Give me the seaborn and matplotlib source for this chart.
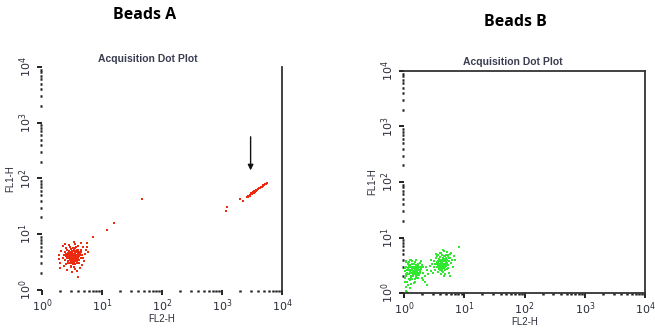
import numpy as np
import pandas as pd
import matplotlib
matplotlib.use("Agg")
import matplotlib.pyplot as plt
import seaborn as sns
from matplotlib.ticker import LogLocator, FixedLocator, FixedFormatter, NullFormatter

sns.set_style("ticks")
plt.rcParams["font.family"] = ["Liberation Sans", "DejaVu Sans"]

# ---- decade ticks ----
decades = [1, 10, 100, 1000, 10000]
decade_labels = [r"$10^{0}$", r"$10^{1}$", r"$10^{2}$", r"$10^{3}$", r"$10^{4}$"]

# ---- Beads A: low population (FL2-H, FL1-H) ----
a_low_fl2 = [3.1, 3.4, 2.9, 3.6, 3.3, 2.8, 3.8, 3.0, 3.5, 4.0,
             2.6, 3.2, 3.7, 4.2, 2.7, 3.9, 3.3, 2.5, 4.4, 3.0,
             3.6, 2.9, 3.4, 3.1, 3.8, 2.7, 4.1, 3.5, 3.2, 2.8,
             4.3, 3.6, 2.4, 2.3, 4.6, 3.0, 3.9, 3.3, 2.6, 4.8,
             3.7, 2.2, 4.5, 3.1, 2.9, 4.0, 2.5, 4.2, 3.4, 2.4,
             3.5, 3.0, 3.7, 3.2, 2.8, 4.0, 3.3, 3.6, 2.9, 3.8,
             2.0, 2.1, 1.9, 2.3, 2.0, 5.2, 5.0, 5.5, 4.9, 2.6,
             3.6, 4.3, 3.9, 2.2, 2.8, 3.5, 4.4, 5.6, 1.9, 4.7,
             3.2, 2.4, 4.0, 5.8, 3.4, 2.7, 3.1, 4.1, 3.0, 2.5,
             3.25, 3.45, 3.05, 3.65, 2.85, 3.95, 3.15, 3.55, 2.75, 4.05,
             3.35, 2.95, 3.75, 3.05, 3.5, 2.65, 4.15, 3.85, 3.2, 2.9,
             3.4, 3.6, 3.0, 3.8, 2.7, 4.3, 3.3, 3.1, 3.5, 2.55,
             3.7, 4.0, 2.8, 3.45, 3.15, 3.9, 2.6, 4.5, 3.25, 3.55]
a_low_fl1 = [3.8, 4.1, 3.6, 4.3, 3.4, 4.2, 3.9, 4.7, 5.0, 4.5,
             3.7, 3.1, 3.3, 4.0, 4.6, 5.3, 4.5, 4.0, 3.7, 3.0,
             3.7, 3.9, 3.6, 4.3, 4.2, 3.3, 3.4, 2.9, 5.1, 5.0,
             4.7, 5.6, 3.4, 4.3, 4.2, 2.7, 3.0, 5.7, 5.3, 3.8,
             6.0, 3.8, 5.2, 2.6, 5.8, 6.2, 2.9, 3.1, 2.6, 4.8,
             3.9, 4.1, 4.0, 3.6, 3.8, 3.8, 4.2, 4.6, 4.4, 3.6,
             3.1, 5.1, 4.2, 2.7, 2.5, 4.5, 3.3, 5.3, 5.9, 2.3,
             2.4, 2.5, 2.2, 6.1, 6.5, 6.7, 6.9, 6.0, 3.6, 2.8,
             2.1, 6.6, 1.7, 4.8, 7.2, 3.0, 3.2, 4.9, 3.5, 5.6,
             3.7, 4.4, 4.2, 3.5, 3.9, 4.6, 3.2, 4.8, 4.1, 3.9,
             5.0, 3.4, 4.9, 5.5, 3.5, 4.3, 4.4, 3.3, 4.0, 4.9,
             3.2, 4.1, 3.7, 5.1, 3.9, 4.3, 3.9, 3.5, 4.6, 4.5,
             3.8, 5.2, 3.1, 5.4, 4.8, 4.3, 4.2, 4.8, 2.9, 3.6]

# ---- Beads A: scattered intermediate events ----
a_mid_fl2 = [5.6, 7.1, 12, 15.8, 46, 1200, 1180, 2000, 2250]
a_mid_fl1 = [6.9, 8.9, 12, 15.8, 43, 31, 26.5, 42.5, 39.8]

# ---- Beads A: bright population ----
a_high_fl2 = [2630, 2700, 2760, 2820, 2880, 2950, 3020, 3080, 3150, 3240,
              3300, 3380, 3470, 3550, 3630, 3720, 3820, 3980, 4100, 4270,
              4400, 4570, 4750, 4900, 5100, 5250, 5450, 5620, 2900, 3100,
              3350, 3600, 3900, 2750, 3200, 3500]
a_high_fl1 = [46, 48, 49.5, 48.5, 51, 50.5, 53, 52, 55, 54,
              57, 56, 59, 58, 61, 60, 63, 64, 67, 67,
              70, 71, 74, 75, 78, 80, 81, 84, 49, 54.5,
              55, 60.5, 62, 47, 53, 57]

# ---- Beads B: first population ----
b_one_fl2 = [1.10, 1.25, 1.40, 1.55, 1.70, 1.15, 1.30, 1.45, 1.60, 1.85,
             1.05, 1.20, 1.35, 1.50, 1.65, 1.80, 1.95, 1.12, 1.28, 1.42,
             1.58, 1.75, 1.08, 1.22, 1.38, 1.52, 1.68, 2.05, 1.18, 1.33,
             1.48, 1.62, 1.90, 1.03, 1.14, 1.26, 1.44, 2.20, 1.72, 1.36,
             1.06, 1.10, 1.17, 1.24, 1.31, 2.40, 2.10, 1.55, 1.85, 1.97,
             1.09, 1.21, 1.34, 1.47, 1.59, 1.66, 1.78, 1.29, 1.41, 1.53,
             2.30, 2.50, 2.65, 2.20, 2.45, 2.80, 2.00, 1.13, 1.02, 1.27,
             1.16, 1.32, 1.46, 1.61, 1.74, 1.23, 1.38, 1.54, 1.07, 1.19,
             1.43, 1.65, 1.27, 1.51, 1.11, 1.36, 1.82, 1.57, 1.04, 1.70,
             1.15, 1.30, 1.50, 1.70, 1.95, 1.25, 1.45, 1.60, 2.10, 1.08]
b_one_fl1 = [2.0, 2.4, 2.1, 2.6, 2.3, 2.8, 1.9, 2.9, 2.0, 2.5,
             2.5, 3.1, 2.7, 2.2, 2.9, 2.1, 2.7, 1.6, 1.7, 2.5,
             3.2, 2.6, 3.0, 2.2, 3.3, 1.8, 1.9, 2.3, 3.5, 2.0,
             2.8, 2.4, 3.0, 1.9, 2.3, 2.9, 1.5, 2.0, 3.4, 3.7,
             1.3, 1.1, 1.4, 1.25, 1.45, 2.6, 1.7, 1.6, 3.5, 1.9,
             3.8, 3.6, 2.3, 2.2, 2.7, 2.1, 2.9, 2.6, 2.0, 3.0,
             2.9, 2.2, 3.1, 1.6, 1.4, 2.5, 3.2, 1.05, 2.8, 3.2,
             2.2, 2.0, 2.4, 2.2, 2.1, 2.6, 2.9, 2.4, 2.2, 1.8,
             3.0, 2.6, 2.3, 2.7, 2.6, 1.8, 2.3, 1.9, 1.6, 2.8,
             3.3, 3.9, 3.6, 3.2, 3.7, 4.0, 3.3, 3.9, 3.0, 3.6]

# ---- Beads B: second population ----
b_two_fl2 = [4.0, 4.4, 3.7, 4.8, 3.4, 4.2, 5.0, 3.9, 4.6, 3.6,
             4.1, 4.5, 5.3, 3.3, 3.8, 4.9, 4.3, 5.6, 3.5, 4.7,
             4.0, 3.2, 5.8, 4.4, 3.6, 5.1, 3.9, 4.6, 6.0, 3.1,
             4.2, 4.8, 3.7, 5.4, 4.3, 3.4, 5.0, 6.3, 4.1, 3.8,
             2.9, 3.0, 6.6, 7.0, 5.5, 4.6, 3.5, 5.9, 2.8, 6.8,
             4.5, 3.9, 4.9, 4.4, 5.2, 3.3, 4.0, 4.7, 8.2, 5.7,
             4.25, 4.05, 3.85, 4.65, 4.35, 5.2, 3.65, 4.9, 4.15, 4.55,
             3.75, 5.0, 4.45, 3.95, 5.5, 4.2, 3.5, 4.8, 4.0, 5.3,
             3.6, 4.1, 4.6, 5.1, 3.9, 4.4, 5.4, 3.4, 4.8, 6.1]
b_two_fl1 = [3.1, 3.4, 2.9, 3.0, 3.3, 2.7, 3.6, 3.7, 2.8, 3.5,
             4.0, 3.9, 3.2, 2.6, 4.1, 4.2, 2.5, 3.8, 3.0, 3.3,
             4.4, 3.7, 4.3, 2.4, 2.4, 2.7, 3.4, 4.6, 3.5, 2.9,
             3.6, 3.7, 3.2, 4.6, 4.9, 4.2, 4.8, 4.0, 2.2, 3.1,
             3.4, 2.3, 3.0, 3.9, 2.3, 2.0, 4.7, 5.0, 3.9, 4.6,
             3.1, 2.8, 3.9, 3.8, 4.0, 3.3, 5.2, 2.2, 6.7, 2.0,
             3.2, 3.5, 3.4, 3.2, 3.0, 3.5, 3.8, 3.4, 2.9, 4.1,
             2.7, 3.1, 4.3, 3.0, 4.2, 3.8, 3.6, 2.6, 2.6, 2.8,
             4.8, 5.3, 5.6, 5.4, 4.5, 6.0, 4.9, 5.1, 4.7, 5.3]

beads_a = pd.DataFrame({
    "FL2-H": a_low_fl2 + a_mid_fl2 + a_high_fl2,
    "FL1-H": a_low_fl1 + a_mid_fl1 + a_high_fl1,
})
beads_b = pd.DataFrame({
    "FL2-H": b_one_fl2 + b_two_fl2,
    "FL1-H": b_one_fl1 + b_two_fl1,
})

RED = "#ec2a10"
GREEN = "#30e830"
TEXT = "#2a2d3a"

fig = plt.figure(figsize=(6.55, 3.31), dpi=100)
fig.patch.set_facecolor("white")
ax_a = fig.add_axes([0.0641, 0.1239, 0.3664, 0.6737])
ax_b = fig.add_axes([0.6168, 0.1148, 0.3680, 0.6707])


def style_axis(ax, spines):
    ax.set_xscale("log")
    ax.set_yscale("log")
    ax.set_xlim(1, 1e4)
    ax.set_ylim(1, 1e4)
    for side in ("left", "right", "top", "bottom"):
        ax.spines[side].set_visible(side in spines)
        ax.spines[side].set_color("#333333")
        ax.spines[side].set_linewidth(1.3)
    for axis in (ax.xaxis, ax.yaxis):
        axis.set_major_locator(FixedLocator(decades))
        axis.set_major_formatter(FixedFormatter(decade_labels))
        axis.set_minor_locator(LogLocator(base=10, subs=np.arange(2, 10), numticks=10))
        axis.set_minor_formatter(NullFormatter())
    ax.tick_params(axis="both", which="both", bottom=True, left=True,
                   top=False, right=False, direction="out")
    ax.tick_params(axis="both", which="major", length=3.5, width=1.4,
                   color="#222222", labelsize=8, labelcolor=TEXT, pad=2)
    ax.tick_params(axis="both", which="minor", length=1.5, width=1.8,
                   color="#222222")
    plt.setp(ax.get_yticklabels(), rotation=90, va="center")
    ax.set_xlabel("FL2-H", fontsize=7, color=TEXT, labelpad=0)
    ax.set_ylabel("FL1-H", fontsize=7, color=TEXT, labelpad=2)
    ax.set_facecolor("white")


for ax in (ax_a, ax_b):
    ax.set_xscale("log")
    ax.set_yscale("log")

sns.scatterplot(data=beads_a, x="FL2-H", y="FL1-H", ax=ax_a, color=RED,
                marker="s", s=4, linewidth=0, legend=False)
sns.scatterplot(data=beads_b, x="FL2-H", y="FL1-H", ax=ax_b, color=GREEN,
                marker="s", s=4, linewidth=0, legend=False)

style_axis(ax_a, spines=("right",))
style_axis(ax_b, spines=("right", "top", "bottom"))

# arrow pointing at the bright population
ax_a.annotate("", xy=(3000, 140), xytext=(3000, 560),
              arrowprops=dict(arrowstyle="-|>", color="#111111", lw=1.0,
                              mutation_scale=8, shrinkA=0, shrinkB=0))

# plot headers
fig.text(148 / 655, 1 - 59 / 331, "Acquisition Dot Plot", ha="center", va="center",
         fontsize=7.5, fontweight="bold", color="#3a3d50")
fig.text(513 / 655, 1 - 62 / 331, "Acquisition Dot Plot", ha="center", va="center",
         fontsize=7.5, fontweight="bold", color="#3a3d50")
fig.text(145 / 655, 1 - 15 / 331, "Beads A", ha="center", va="center",
         fontsize=11.5, fontweight="bold", color="black",
         family=["Open Sans", "DejaVu Sans"])
fig.text(515 / 655, 1 - 22 / 331, "Beads B", ha="center", va="center",
         fontsize=11.5, fontweight="bold", color="black",
         family=["Open Sans", "DejaVu Sans"])

fig.savefig("out.png", dpi=100, facecolor="white")
